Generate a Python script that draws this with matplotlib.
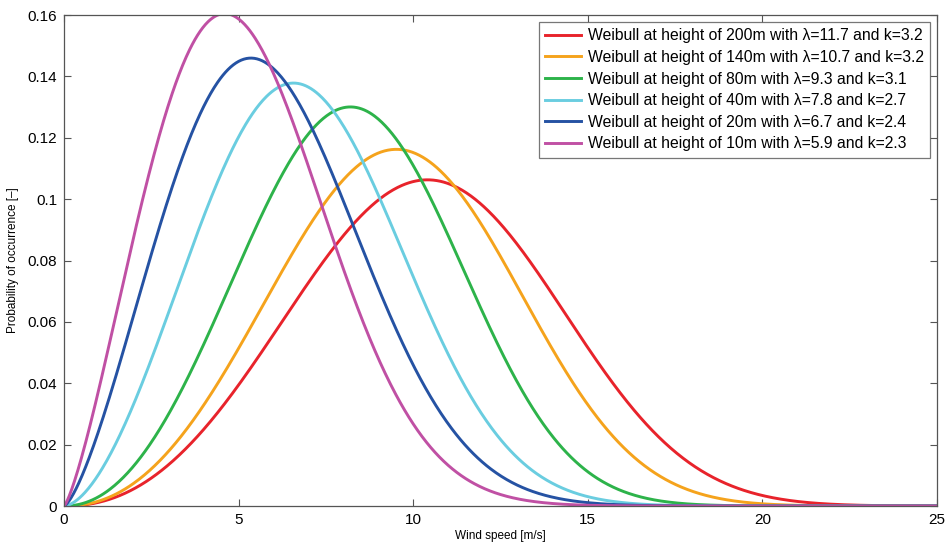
import numpy as np
import matplotlib
matplotlib.use("Agg")
import matplotlib.pyplot as plt

plt.rcParams['font.family'] = ['Liberation Sans', 'DejaVu Sans']

# Weibull parameters for each hub height
heights = ["200m", "140m", "80m", "40m", "20m", "10m"]
scales = [11.7, 10.7, 9.3, 7.8, 6.7, 5.9]      # lambda
shapes = [3.2, 3.2, 3.1, 2.7, 2.4, 2.3]        # k
colors = ["#e8232b", "#f5a31c", "#2db34a", "#6acde0", "#2552a3", "#c050a4"]

x_ticks = [0, 5, 10, 15, 20, 25]
y_ticks = [0, 0.02, 0.04, 0.06, 0.08, 0.1, 0.12, 0.14, 0.16]
y_ticklabels = ["0", "0.02", "0.04", "0.06", "0.08", "0.1", "0.12", "0.14", "0.16"]


def weibull_pdf(v, lam, k):
    return (k / lam) * (v / lam) ** (k - 1) * np.exp(-(v / lam) ** k)


fig = plt.figure(figsize=(9.48, 5.48), dpi=100)
ax = fig.add_axes([0.0675, 0.0766, 0.921, 0.896])

v = np.linspace(0, 25, 1001)
for h, lam, k, c in zip(heights, scales, shapes, colors):
    ax.plot(v, weibull_pdf(v, lam, k), color=c, lw=2.1,
            label=f"Weibull at height of {h} with \u03bb={lam} and k={k}")

ax.set_xlim(0, 25)
ax.set_ylim(0, 0.16)
ax.set_xticks(x_ticks)
ax.set_yticks(y_ticks)
ax.set_yticklabels(y_ticklabels)
ax.tick_params(direction='in', top=True, right=True, length=5, width=0.8,
               color='#555555', labelsize=11, pad=5)
for s in ax.spines.values():
    s.set_color('#555555')
    s.set_linewidth(0.9)

ax.set_xlabel("Wind speed [m/s]", fontsize=8.5, labelpad=2)
ax.set_ylabel("Probability of occurrence [\u2013]", fontsize=8.5, labelpad=6)

leg = ax.legend(loc='upper right', fontsize=11.3, frameon=True, fancybox=False,
                edgecolor='#555555', handlelength=2.3, handletextpad=0.4,
                labelspacing=0.42, borderpad=0.4, borderaxespad=0.45)
leg.get_frame().set_linewidth(0.9)

fig.savefig("out.png", dpi=100)
